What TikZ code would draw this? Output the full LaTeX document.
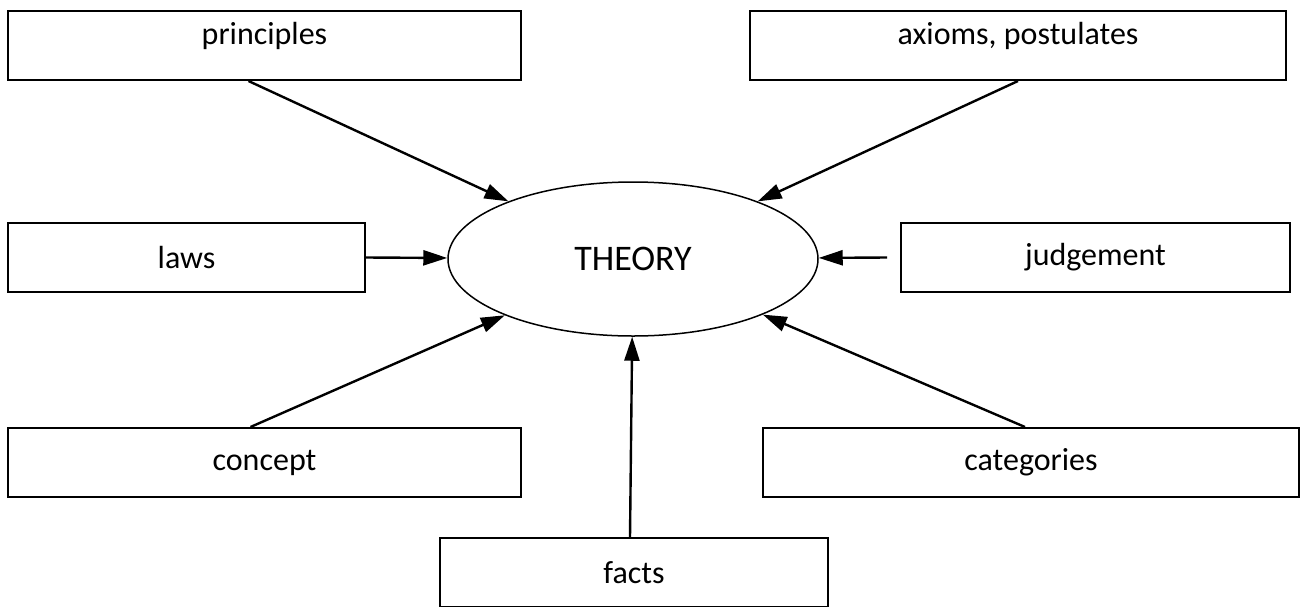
\documentclass[tikz,border=0pt]{standalone}
\usepackage{fontspec}
\setmainfont{Carlito}
\usetikzlibrary{shapes, arrows.meta, positioning}

\begin{document}
\begin{tikzpicture}[x=0.5pt, y=-0.5pt,
    box/.style={draw, rectangle, line width=1pt, minimum height=34.5pt, inner sep=0pt, align=center, font=\fontsize{16}{19}\selectfont},
    raised/.style={text depth=12pt},
    arr/.style={-{Triangle[length=12pt, width=7.5pt]}, line width=1.2pt}]

    \useasboundingbox (0,0) rectangle (1300,606);

    \node[draw, ellipse, line width=0.75pt, minimum width=185pt, minimum height=77pt, font=\fontsize{18}{21}\selectfont] (theory) at (633,259) {THEORY};

    \node[box, raised, minimum width=256.5pt] (prin) at (264.5,45.5) {principles};
    \node[box, raised, minimum width=268pt] (axiom) at (1018,45.5) {axioms, postulates};
    \node[box, minimum width=178.5pt] (laws) at (186.5,257.5) {laws};
    \node[box, minimum width=194.5pt] (judg) at (1095.5,257.5) {judgement};
    \node[box, minimum width=256.5pt] (conc) at (264.5,462.5) {concept};
    \node[box, minimum width=268pt] (cat) at (1031,462.5) {categories};
    \node[box, minimum width=194pt] (facts) at (634,572.5) {facts};

    \draw[arr] ([xshift=-8pt]prin.south) -- (theory);
    \draw[arr] (axiom.south) -- (theory);
    \draw[arr] (laws.east) -- (theory);
    \draw[arr] ([xshift=-6.5pt]judg.west) -- (theory);
    \draw[arr] ([xshift=-7pt]conc.north) -- (theory);
    \draw[arr] ([xshift=-3pt]cat.north) -- (theory);
    \draw[arr] ([xshift=-2pt]facts.north) -- (theory);
\end{tikzpicture}
\end{document}
